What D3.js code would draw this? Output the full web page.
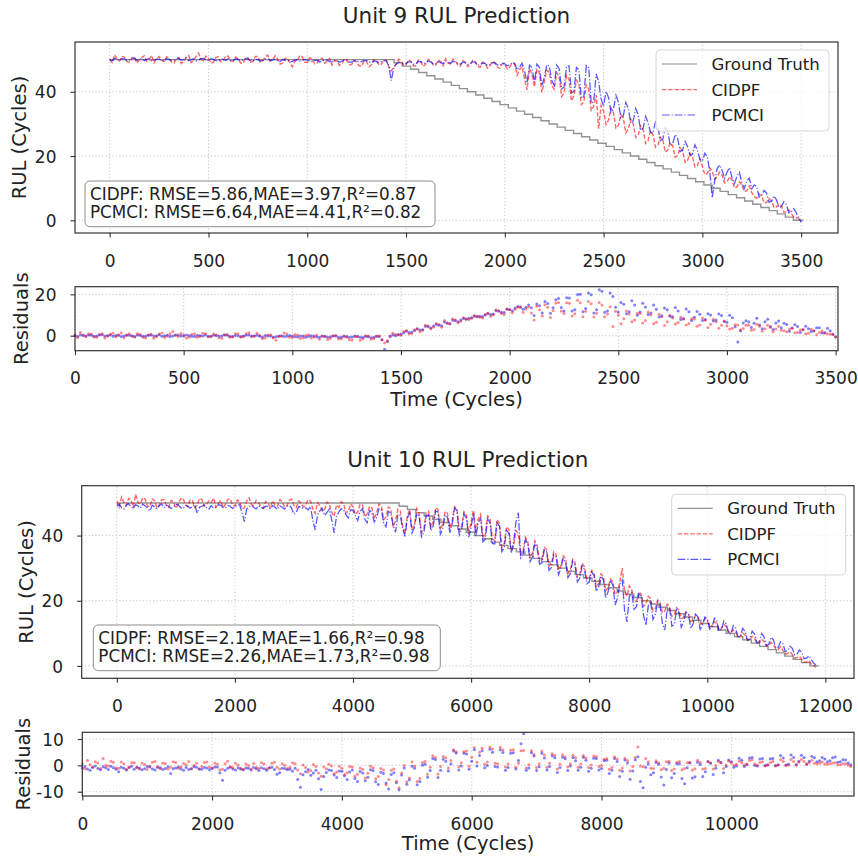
<!DOCTYPE html>
<html>
<head>
<meta charset="utf-8">
<title>RUL Prediction</title>
<script src="https://cdn.jsdelivr.net/npm/d3@7"></script>
<style>
    body { margin: 0; background: #fff; }
    svg { display: block; font-family: "DejaVu Sans", Verdana, sans-serif; }
</style>
</head>
<body>
<div id="chart"></div>
<script>
// Unit 9 predictions, one value every 12.5 cycles (0 .. 3500), one row per 250 cycles
const unit9Step = 12.5;
const unit9Cidpf = [
    50.2, 49.1, 51.5, 50.3, 49.6, 51.0, 50.8, 49.4, 49.3, 50.6, 50.9, 48.9, 49.8, 50.7, 51.2, 49.5, 50.1, 51.3, 49.0, 50.4,
    51.0, 49.8, 49.4, 50.9, 50.6, 49.2, 48.9, 50.3, 50.7, 48.8, 49.5, 50.8, 51.3, 49.1, 49.8, 51.0, 52.0, 50.2, 49.6, 51.1,
    50.4, 48.9, 49.2, 50.7, 50.9, 49.3, 49.7, 51.2, 51.1, 49.6, 49.5, 50.8, 50.3, 49.0, 48.8, 50.5, 50.6, 49.2, 49.4, 51.0,
    51.0, 49.3, 49.6, 50.9, 51.4, 49.5, 49.9, 51.2, 50.2, 48.6, 48.9, 50.4, 50.5, 49.0, 47.8, 49.6, 49.7, 51.3, 50.8, 49.2,
    49.1, 50.6, 50.3, 48.7, 49.0, 50.2, 50.5, 48.9, 49.4, 50.4, 48.3, 49.7, 49.6, 48.2, 48.7, 50.0, 50.1, 48.4, 48.5, 49.8,
    49.3, 48.1, 47.9, 49.6, 49.5, 47.8, 48.4, 50.0, 49.8, 48.3, 48.6, 49.7, 49.9, 48.0, 46.5, 47.6, 48.8, 50.2, 49.6, 48.3,
    48.4, 50.0, 49.5, 48.0, 48.1, 49.9, 49.3, 47.9, 48.6, 50.1, 49.8, 48.4, 48.2, 49.9, 49.4, 48.1, 50.3, 49.0, 48.7, 50.2,
    49.6, 48.3, 48.0, 49.7, 49.2, 47.8, 48.5, 49.8, 49.4, 47.9, 47.6, 49.2, 48.9, 47.4, 48.1, 49.5, 49.0, 47.7, 47.3, 48.8,
    48.5, 47.1, 47.8, 48.9, 48.6, 45.2, 46.9, 47.9, 44.0, 40.6, 47.2, 45.5, 41.5, 47.0, 45.8, 39.8, 43.2, 46.8, 46.0, 41.9,
    40.8, 45.9, 44.7, 38.5, 39.6, 45.1, 43.9, 37.2, 38.8, 43.6, 42.5, 36.0, 36.9, 42.1, 40.8, 34.2, 35.5, 39.0, 28.5, 35.8,
    34.0, 29.8, 31.2, 35.0, 33.5, 28.7, 29.6, 32.9, 31.8, 27.2, 28.4, 31.5, 30.0, 25.8, 26.5, 29.4, 28.2, 23.9, 24.8, 27.9,
    26.6, 22.7, 23.4, 25.9, 25.0, 21.2, 21.9, 24.2, 23.1, 19.6, 20.2, 22.6, 21.5, 18.0, 18.6, 20.9, 19.8, 16.6, 17.0, 19.1,
    16.8, 14.2, 14.6, 16.3, 15.2, 12.8, 13.5, 15.0, 14.0, 11.6, 12.0, 13.6, 12.6, 10.1, 10.4, 12.0, 11.0, 8.9, 9.2, 10.6,
    8.6, 7.4, 6.9, 8.2, 7.6, 5.4, 5.6, 6.8, 6.0, 4.0, 4.2, 5.1, 4.4, 2.5, 2.6, 3.3, 2.2, 0.9, 0.8, 0.6,
    -0.6
];
const unit9Pcmci = [
    50.0, 49.6, 50.4, 50.1, 49.8, 50.4, 50.2, 49.7, 49.9, 50.3, 50.5, 49.8, 50.0, 50.4, 49.7, 50.1, 50.3, 49.6, 49.9, 50.2,
    50.2, 49.8, 49.6, 50.3, 50.1, 49.7, 49.8, 50.2, 50.4, 49.9, 50.0, 50.5, 49.7, 50.0, 50.2, 49.6, 49.9, 50.4, 50.3, 49.8,
    49.8, 50.3, 50.1, 49.7, 49.6, 50.2, 50.0, 49.8, 50.3, 49.6, 49.7, 50.2, 50.1, 49.8, 49.9, 50.4, 50.2, 49.7, 49.6, 50.1,
    50.0, 49.6, 49.8, 50.2, 50.3, 49.8, 49.9, 50.2, 49.7, 49.4, 50.1, 49.9, 49.8, 49.3, 49.5, 49.9, 50.0, 49.6, 49.7, 50.1,
    49.9, 49.5, 49.4, 49.9, 49.8, 49.3, 49.6, 50.0, 49.9, 49.4, 49.3, 49.8, 49.7, 49.2, 49.5, 49.9, 49.8, 49.3, 49.2, 49.7,
    49.6, 49.2, 49.4, 49.8, 49.7, 49.2, 49.1, 49.6, 49.5, 49.0, 49.3, 49.7, 49.6, 48.1, 43.5, 47.2, 48.6, 49.3, 49.0, 48.6,
    48.7, 49.4, 49.2, 48.6, 48.8, 49.5, 49.4, 48.8, 48.9, 49.6, 49.3, 48.7, 48.7, 49.4, 49.1, 48.8, 49.6, 49.2, 48.9, 49.5,
    49.3, 48.8, 48.6, 49.3, 49.0, 48.5, 48.7, 49.4, 49.2, 48.4, 48.3, 49.0, 48.8, 48.2, 48.5, 49.1, 49.0, 48.4, 48.2, 48.9,
    48.7, 48.1, 48.4, 49.1, 48.9, 46.8, 47.8, 48.9, 46.5, 42.8, 48.3, 47.5, 43.0, 48.6, 47.6, 41.9, 44.5, 48.4, 48.0, 43.6,
    42.0, 48.3, 47.2, 40.9, 41.5, 47.9, 48.1, 39.6, 40.2, 47.6, 46.8, 38.0, 38.5, 48.2, 47.5, 36.4, 37.0, 45.6, 43.0, 37.8,
    35.5, 40.1, 38.2, 33.6, 34.6, 38.9, 36.8, 31.9, 32.5, 36.7, 34.9, 30.2, 31.0, 34.8, 32.8, 28.0, 28.6, 32.4, 30.5, 27.4,
    27.2, 30.6, 29.0, 24.8, 25.3, 28.9, 27.6, 23.3, 23.9, 26.7, 25.4, 21.4, 21.8, 24.6, 23.0, 20.1, 20.6, 23.5, 21.8, 18.9,
    18.5, 20.9, 19.7, 15.3, 7.0, 12.4, 16.1, 17.2, 15.6, 13.0, 15.0, 16.4, 13.2, 11.4, 13.8, 14.9, 11.5, 10.0, 12.2, 13.1,
    9.8, 11.0, 10.4, 7.2, 7.7, 9.3, 8.5, 5.6, 5.9, 7.6, 6.4, 4.0, 4.3, 5.8, 4.9, 2.3, 2.6, 3.6, 2.4, 0.7,
    -0.5
];
// Ground truth: cycle at which each RUL level (rulLevels) begins
const unit9TruthStart = [
    0, 1440, 1481, 1523, 1564, 1605, 1646, 1688, 1729, 1770,
    1811, 1853, 1894, 1935, 1976, 2018, 2059, 2100, 2141, 2183,
    2224, 2265, 2306, 2348, 2389, 2430, 2471, 2513, 2554, 2595,
    2636, 2678, 2719, 2760, 2801, 2843, 2884, 2925, 2966, 3008,
    3049, 3090, 3131, 3173, 3214, 3255, 3296, 3338, 3379, 3420,
    3461, 3511
];

// Unit 10 predictions, one value every 40 cycles (0 .. 11840), one row per 800 cycles
const unit10Step = 40;
const unit10Cidpf = [
    50.5, 48.7, 51.8, 50.2, 49.2, 51.4, 50.9, 48.8, 52.6, 50.0, 49.8, 51.6, 51.2, 49.0, 48.9, 51.3, 50.6, 48.5, 49.4, 51.0,
    51.0, 49.2, 48.6, 50.8, 50.3, 48.4, 49.7, 51.2, 51.5, 49.6, 48.8, 50.9, 50.7, 48.6, 49.3, 51.4, 51.1, 48.9, 49.5, 50.7,
    50.2, 51.5, 48.7, 49.9, 50.8, 48.6, 49.6, 51.1, 51.3, 49.4, 49.0, 50.9, 50.4, 48.3, 48.5, 50.6, 51.6, 49.5, 49.2, 50.8,
    50.1, 48.9, 48.4, 50.5, 49.9, 48.6, 50.7, 49.2, 48.9, 51.0, 50.5, 48.7, 49.1, 50.8, 51.2, 49.3, 48.6, 50.6, 50.0, 48.8,
    49.3, 51.0, 50.6, 48.2, 46.8, 50.1, 49.2, 47.5, 48.0, 50.3, 49.6, 47.1, 45.9, 49.4, 48.7, 50.4, 49.8, 46.9, 47.5, 49.7,
    48.9, 46.5, 47.2, 49.6, 49.4, 45.9, 46.6, 49.0, 48.5, 45.2, 47.0, 49.7, 49.1, 44.9, 45.8, 48.8, 48.2, 42.6, 44.6, 48.1,
    47.6, 43.0, 40.5, 46.1, 47.9, 41.8, 43.2, 48.3, 46.8, 40.9, 42.0, 47.1, 47.5, 42.6, 44.3, 48.6, 48.0, 41.7, 43.6, 47.4,
    46.9, 42.0, 44.8, 48.9, 48.2, 41.5, 43.0, 47.3, 46.4, 40.7, 44.1, 47.8, 41.2, 45.0, 46.5, 39.4, 40.3, 46.0, 45.2, 38.8,
    38.6, 44.9, 43.8, 36.4, 37.5, 42.7, 41.9, 35.3, 36.8, 41.5, 40.6, 34.0, 35.2, 39.5, 38.1, 33.2, 34.6, 38.4, 36.9, 32.3,
    32.8, 36.4, 35.7, 30.6, 31.4, 35.0, 34.2, 29.4, 30.6, 33.8, 32.9, 28.3, 29.5, 32.7, 31.8, 27.2, 28.1, 31.5, 30.4, 26.6,
    26.9, 29.3, 28.6, 24.5, 25.2, 28.3, 27.4, 23.1, 24.0, 26.7, 25.8, 21.9, 22.6, 26.0, 30.0, 22.8, 21.5, 24.6, 23.4, 19.9,
    19.8, 22.7, 22.0, 18.3, 18.9, 21.4, 20.6, 17.0, 17.6, 20.2, 19.5, 16.3, 16.8, 19.0, 18.2, 15.2, 15.7, 17.9, 17.1, 14.6,
    14.8, 16.6, 16.0, 13.6, 13.9, 15.5, 15.0, 12.8, 13.1, 14.6, 14.0, 12.0, 12.4, 13.6, 13.0, 11.1, 11.5, 12.8, 12.1, 10.6,
    10.0, 11.1, 10.4, 8.8, 9.0, 10.1, 9.5, 7.8, 8.0, 9.1, 8.5, 6.9, 7.1, 8.2, 7.5, 6.0, 6.2, 7.2, 6.5, 5.3,
    5.0, 5.9, 4.8, 3.6, 3.8, 4.3, 3.5, 2.4, 2.6, 2.9, 2.0, 1.1, 1.2, 1.6, 0.6, 0.1, -0.4
];
const unit10Pcmci = [
    49.0, 49.6, 48.6, 48.1, 49.3, 49.8, 48.8, 48.3, 49.5, 49.1, 48.4, 49.7, 49.1, 48.5, 47.6, 49.3, 48.9, 48.2, 49.2, 49.7,
    48.5, 49.3, 49.0, 48.3, 48.7, 49.6, 49.4, 48.6, 48.2, 49.2, 49.1, 48.4, 48.8, 49.5, 46.9, 48.7, 49.0, 49.4, 48.6, 48.1,
    49.2, 48.4, 48.7, 49.5, 49.3, 48.6, 48.5, 49.2, 49.0, 48.3, 48.8, 49.4, 49.4, 47.2, 44.3, 48.1, 48.9, 49.3, 48.6, 48.2,
    49.1, 48.6, 48.3, 49.0, 48.9, 48.2, 49.2, 48.7, 48.0, 49.1, 48.7, 48.1, 49.0, 49.3, 48.4, 46.6, 47.2, 48.9, 48.8, 48.3,
    48.5, 47.9, 48.9, 44.6, 41.7, 46.4, 47.6, 48.4, 46.2, 47.1, 48.1, 44.9, 40.8, 45.8, 47.3, 48.2, 48.0, 46.3, 45.4, 47.9,
    47.8, 46.1, 44.6, 47.5, 48.2, 45.0, 43.9, 47.7, 47.1, 44.2, 45.5, 48.3, 48.0, 43.8, 42.7, 47.4, 46.9, 43.3, 41.0, 46.5,
    46.2, 42.4, 39.7, 45.3, 47.0, 40.8, 42.5, 46.7, 45.9, 39.6, 40.9, 46.0, 46.4, 41.5, 43.0, 47.6, 47.2, 40.4, 42.1, 46.3,
    45.6, 40.9, 43.5, 48.4, 47.7, 40.2, 41.8, 46.6, 45.3, 39.5, 42.6, 46.9, 39.8, 43.7, 45.5, 38.1, 38.9, 45.1, 44.0, 37.6,
    37.4, 43.9, 42.9, 35.1, 36.2, 41.6, 40.8, 34.6, 37.8, 44.2, 47.0, 33.1, 34.0, 38.8, 37.5, 32.0, 33.5, 37.6, 35.8, 31.2,
    31.6, 35.6, 34.9, 29.3, 30.2, 34.1, 33.5, 28.0, 29.8, 33.0, 31.7, 27.1, 28.3, 32.1, 30.9, 25.8, 26.9, 30.7, 29.6, 25.2,
    25.8, 28.8, 27.9, 22.9, 24.1, 27.6, 26.5, 20.8, 22.8, 26.0, 24.9, 18.7, 20.9, 25.1, 26.3, 16.9, 13.5, 21.3, 22.5, 17.4,
    18.2, 22.1, 21.4, 15.6, 12.5, 18.4, 19.9, 14.3, 15.9, 19.6, 18.6, 13.0, 11.0, 17.1, 17.9, 12.2, 12.7, 17.2, 16.3, 11.8,
    13.6, 16.4, 15.8, 11.5, 12.9, 15.9, 15.1, 11.2, 12.6, 15.0, 14.4, 11.3, 11.8, 14.7, 13.9, 10.6, 11.2, 13.8, 13.0, 9.9,
    9.8, 12.4, 11.6, 8.9, 9.2, 11.5, 10.6, 7.9, 8.2, 10.7, 9.8, 7.1, 7.4, 9.9, 9.0, 6.3, 6.6, 8.8, 8.0, 5.5,
    5.6, 7.4, 6.9, 4.4, 4.7, 6.0, 5.4, 3.4, 3.7, 4.9, 4.2, 2.2, 2.4, 3.1, 2.0, 0.9, 0.2
];
const unit10TruthStart = [
    0, 4780, 4922, 5064, 5206, 5348, 5490, 5632, 5774, 5916,
    6058, 6200, 6342, 6484, 6626, 6768, 6910, 7052, 7194, 7336,
    7478, 7620, 7762, 7904, 8046, 8188, 8330, 8472, 8614, 8756,
    8898, 9040, 9182, 9324, 9466, 9608, 9750, 9892, 10034, 10176,
    10318, 10460, 10602, 10744, 10886, 11028, 11170, 11312, 11454, 11596,
    11738, 11890
];
const rulLevels = [
    50, 49, 48, 47, 46, 45, 44, 43, 42, 41,
    40, 39, 38, 37, 36, 35, 34, 33, 32, 31,
    30, 29, 28, 27, 26, 25, 24, 23, 22, 21,
    20, 19, 18, 17, 16, 15, 14, 13, 12, 11,
    10, 9, 8, 7, 6, 5, 4, 3, 2, 1,
    0, 0
];

const unit9Metrics = ['CIDPF: RMSE=5.86,MAE=3.97,R²=0.87', 'PCMCI: RMSE=6.64,MAE=4.41,R²=0.82'];
const unit10Metrics = ['CIDPF: RMSE=2.18,MAE=1.66,R²=0.98', 'PCMCI: RMSE=2.26,MAE=1.73,R²=0.98'];

const unit9XTicks = [0, 500, 1000, 1500, 2000, 2500, 3000, 3500];
const unit10XTicks = [0, 2000, 4000, 6000, 8000, 10000, 12000];
const unit10ResidXTicks = [0, 2000, 4000, 6000, 8000, 10000];
const rulTicks = [0, 20, 40];
const unit9ResidTicks = [0, 20];
const unit10ResidTicks = [-10, 0, 10];
const seriesNames = ['Ground Truth', 'CIDPF', 'PCMCI'];

const styles = [
    { color: '#808080', opacity: 0.85, dash: null, width: 1.4 },
    { color: '#ff0000', opacity: 0.6, dash: '4.4,1.9', width: 1.4 },
    { color: '#0000ff', opacity: 0.65, dash: '7.7,1.9,1.2,1.9', width: 1.3 }
];

const textColor = '#222';
const svg = d3.select('#chart').append('svg').attr('width', 858).attr('height', 859);

const truthAt = (starts, t) => rulLevels[Math.max(0, d3.bisectRight(starts, t) - 1)];
const plainNumber = d => d < 0 ? `-${-d}` : `${d}`;

const addGrid = (g, x, y, xTicks, yTicks) => {
    const [x0, x1] = x.range();
    const [y0, y1] = y.range();
    const grid = g.append('g')
        .attr('stroke', '#b8b8b8')
        .attr('stroke-width', 0.8)
        .attr('stroke-dasharray', '1.2,2.2');
    grid.selectAll('.vg').data(xTicks).join('line')
        .attr('x1', d => x(d)).attr('x2', d => x(d))
        .attr('y1', y0).attr('y2', y1);
    grid.selectAll('.hg').data(yTicks).join('line')
        .attr('x1', x0).attr('x2', x1)
        .attr('y1', d => y(d)).attr('y2', d => y(d));
};

const addAxes = (g, x, y, xTicks, yTicks) => {
    const [x0, x1] = x.range();
    const [y0, y1] = y.range();

    const xAxis = g.append('g')
        .attr('transform', `translate(0,${y0})`)
        .call(d3.axisBottom(x).tickValues(xTicks).tickFormat(plainNumber)
            .tickSize(4.5).tickPadding(17).tickSizeOuter(0));
    const yAxis = g.append('g')
        .attr('transform', `translate(${x0},0)`)
        .call(d3.axisLeft(y).tickValues(yTicks).tickFormat(plainNumber)
            .tickSize(4.5).tickPadding(14).tickSizeOuter(0));

    [xAxis, yAxis].forEach(a => {
        a.attr('font-family', null).attr('font-size', null);
        a.select('.domain').remove();
        a.selectAll('.tick line').attr('stroke', '#333').attr('stroke-width', 1.1);
        a.selectAll('.tick text').attr('fill', textColor).style('font-size', '17px');
    });
    yAxis.selectAll('.tick text').attr('dy', '0.36em');

    g.append('rect')
        .attr('x', x0).attr('y', y1)
        .attr('width', x1 - x0).attr('height', y0 - y1)
        .attr('fill', 'none')
        .attr('stroke', '#333')
        .attr('stroke-width', 1.2);
};

const addYLabel = (g, text, x, y) => {
    const [y0, y1] = y.range();
    g.append('text')
        .attr('transform', `translate(${x},${(y0 + y1) / 2}) rotate(-90)`)
        .attr('text-anchor', 'middle')
        .style('font-size', '19.5px')
        .attr('fill', textColor)
        .text(text);
};

const addLegend = (g, box) => {
    const lg = g.append('g').attr('transform', `translate(${box.x},${box.y})`);
    lg.append('rect')
        .attr('width', box.w).attr('height', box.h)
        .attr('rx', 4)
        .attr('fill', '#fff').attr('fill-opacity', 0.8)
        .attr('stroke', '#d6d6d6');
    const rows = [14, 39.6, 65];
    seriesNames.forEach((name, i) => {
        const s = styles[i];
        lg.append('line')
            .attr('x1', 6).attr('x2', 41)
            .attr('y1', rows[i]).attr('y2', rows[i])
            .attr('stroke', s.color)
            .attr('stroke-opacity', s.opacity)
            .attr('stroke-width', 1.2)
            .attr('stroke-dasharray', s.dash);
        lg.append('text')
            .attr('x', 55.5).attr('y', rows[i])
            .attr('dy', '0.36em')
            .style('font-size', '16.6px')
            .attr('fill', textColor)
            .text(name);
    });
};

const addMetricsBox = (g, box, lines) => {
    g.append('rect')
        .attr('x', box.x).attr('y', box.y)
        .attr('width', box.w).attr('height', box.h)
        .attr('rx', 5)
        .attr('fill', '#fff').attr('fill-opacity', 0.8)
        .attr('stroke', '#8c8c8c');
    lines.forEach((line, i) => {
        g.append('text')
            .attr('x', box.x + 5)
            .attr('y', box.y + 18.5 + i * 18.5)
            .style('font-size', '16.8px')
            .attr('fill', textColor)
            .text(line);
    });
};

const drawUnit = (u) => {
    const g = svg.append('g');

    // Title
    g.append('text')
        .attr('x', (u.main.left + u.main.right) / 2)
        .attr('y', u.titleY)
        .attr('text-anchor', 'middle')
        .style('font-size', '21.5px')
        .attr('fill', textColor)
        .text(u.title);

    const series = [u.cidpf, u.pcmci].map(vals => vals.map((v, i) => ({ t: i * u.step, v })));
    const truth = u.truthStart.map((t, i) => ({ t, v: rulLevels[i] }));

    // Prediction panel
    const x = d3.scaleLinear().domain(u.main.xDomain).range([u.main.left, u.main.right]);
    const y = d3.scaleLinear().domain(u.main.yDomain).range([u.main.bottom, u.main.top]);
    addGrid(g, x, y, u.xTicks, rulTicks);

    const stepLine = d3.line().curve(d3.curveStepAfter).x(d => x(d.t)).y(d => y(d.v));
    const line = d3.line().x(d => x(d.t)).y(d => y(d.v));

    g.append('path')
        .datum(truth)
        .attr('d', stepLine)
        .attr('fill', 'none')
        .attr('stroke', styles[0].color)
        .attr('stroke-opacity', styles[0].opacity)
        .attr('stroke-width', styles[0].width);

    series.forEach((data, i) => {
        const s = styles[i + 1];
        g.append('path')
            .datum(data)
            .attr('d', line)
            .attr('fill', 'none')
            .attr('stroke', s.color)
            .attr('stroke-opacity', s.opacity)
            .attr('stroke-width', s.width)
            .attr('stroke-dasharray', s.dash);
    });

    addAxes(g, x, y, u.xTicks, rulTicks);
    addYLabel(g, 'RUL (Cycles)', u.main.labelX, y);
    addLegend(g, u.legend);
    addMetricsBox(g, u.box, u.metrics);

    // Residual panel: prediction minus ground truth
    const rx = d3.scaleLinear().domain(u.resid.xDomain).range([u.resid.left, u.resid.right]);
    const ry = d3.scaleLinear().domain(u.resid.yDomain).range([u.resid.bottom, u.resid.top]);
    addGrid(g, rx, ry, u.residXTicks, u.residTicks);

    [1, 0].forEach(k => {
        const s = styles[k + 1];
        const resid = series[k].map(d => ({ t: d.t, r: d.v - truthAt(u.truthStart, d.t) }));
        g.append('g')
            .selectAll('circle')
            .data(resid)
            .join('circle')
            .attr('cx', d => rx(d.t))
            .attr('cy', d => ry(d.r))
            .attr('r', 1.5)
            .attr('fill', s.color)
            .attr('fill-opacity', k === 0 ? 0.45 : 0.5);
    });

    addAxes(g, rx, ry, u.residXTicks, u.residTicks);
    addYLabel(g, 'Residuals', u.resid.labelX, ry);

    g.append('text')
        .attr('x', (u.resid.left + u.resid.right) / 2)
        .attr('y', u.xLabelY)
        .attr('text-anchor', 'middle')
        .style('font-size', '19.5px')
        .attr('fill', textColor)
        .text('Time (Cycles)');
};

drawUnit({
    title: 'Unit 9 RUL Prediction', titleY: 23,
    step: unit9Step, cidpf: unit9Cidpf, pcmci: unit9Pcmci, truthStart: unit9TruthStart,
    metrics: unit9Metrics,
    xTicks: unit9XTicks, residXTicks: unit9XTicks, residTicks: unit9ResidTicks,
    main: { left: 75, right: 838, top: 42, bottom: 233, xDomain: [-175.5, 3686.5], yDomain: [-3.95, 55.5], labelX: 26 },
    resid: { left: 75, right: 838, top: 286.7, bottom: 350.7, xDomain: [0, 3511], yDomain: [-7.25, 23.7], labelX: 27.5 },
    xLabelY: 406,
    legend: { x: 656, y: 50, w: 173, h: 81 },
    box: { x: 85, y: 181, w: 350, h: 45.7 }
});

drawUnit({
    title: 'Unit 10 RUL Prediction', titleY: 466.5,
    step: unit10Step, cidpf: unit10Cidpf, pcmci: unit10Pcmci, truthStart: unit10TruthStart,
    metrics: unit10Metrics,
    xTicks: unit10XTicks, residXTicks: unit10ResidXTicks, residTicks: unit10ResidTicks,
    main: { left: 81.7, right: 854, top: 485.7, bottom: 678.3, xDomain: [-594.5, 12484.5], yDomain: [-3.8, 55.3], labelX: 32.5 },
    resid: { left: 82.3, right: 854, top: 732.3, bottom: 796, xDomain: [0, 11890], yDomain: [-11.63, 12.54], labelX: 29.5 },
    xLabelY: 849.5,
    legend: { x: 671.7, y: 494.3, w: 174, h: 80.7 },
    box: { x: 93.3, y: 625, w: 347, h: 45.7 }
});
</script>
</body>
</html>
